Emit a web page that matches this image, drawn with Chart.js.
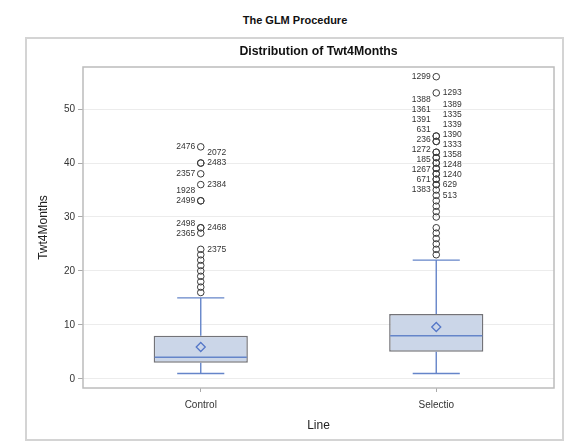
<!DOCTYPE html>
<html>
<head>
<meta charset="utf-8">
<script src="https://cdn.jsdelivr.net/npm/chart.js@4.4.1/dist/chart.umd.min.js"></script>
<style>
  body { margin: 0; width: 566px; height: 444px; background: #fff; overflow: hidden; position: relative; font-family: "Liberation Sans", Arial, sans-serif; }
  #glm { position: absolute; left: 0; top: 14px; width: 590px; text-align: center; font-weight: bold; font-size: 11px; line-height: 13px; color: #111; }
  #frame { position: absolute; left: 25px; top: 37px; width: 539px; height: 404px; border: 2px solid #d4d4d4; box-sizing: border-box; }
  #chart { position: absolute; left: 0; top: 0; }
</style>
</head>
<body>
<div id="glm">The GLM Procedure</div>
<div id="frame"><canvas id="chart" width="535" height="400"></canvas></div>
<script>
// カテゴリと箱ひげの統計量
const categories = ['Control', 'Selectio'];
const q1 = [3, 5];
const median = [4, 8];
const q3 = [8, 12];
const mean = [5.9, 9.6];
const whiskerLow = [1, 1];
const whiskerHigh = [15, 22];
const yTicks = [0, 10, 20, 30, 40, 50];

// 外れ値
const controlOutliers = [16, 17, 18, 19, 20, 21, 22, 23, 24, 27, 28, 28, 33, 33, 36, 38, 40, 40, 43];
const selectioOutliers = [23, 24, 25, 26, 27, 28, 30, 31, 32, 33, 34, 35, 36, 36, 37, 37, 38, 38,
  39, 39, 40, 40, 41, 41, 42, 42, 44, 44, 45, 45, 53, 56];

// 外れ値のID ラベル [id, 値, 側]
const controlLabels = [
  ['2476', 43, 'left'], ['2072', 40, 'right'], ['2483', 40, 'right'], ['2357', 38, 'left'],
  ['2384', 36, 'right'], ['1928', 33, 'left'], ['2499', 33, 'left'], ['2498', 28, 'left'],
  ['2468', 28, 'right'], ['2365', 27, 'left'], ['2375', 24, 'right']
];
const selectioLabels = [
  ['1299', 56, 'left'], ['1293', 53, 'right'], ['1388', 45, 'left'], ['1389', 45, 'right'],
  ['1361', 44, 'left'], ['1335', 44, 'right'], ['1391', 42, 'left'], ['1339', 42, 'right'],
  ['631', 41, 'left'], ['1390', 41, 'right'], ['236', 40, 'left'], ['1333', 40, 'right'],
  ['1272', 39, 'left'], ['1358', 39, 'right'], ['185', 38, 'left'], ['1248', 38, 'right'],
  ['1267', 37, 'left'], ['1240', 37, 'right'], ['671', 36, 'left'], ['629', 36, 'right'],
  ['1383', 35, 'left'], ['513', 34, 'right']
];

const FONT = '"Liberation Sans", Arial, sans-serif';
const BLUE = '#6585c9';

const outlierPoints = [];
controlOutliers.forEach(v => outlierPoints.push({ x: categories[0], y: v }));
selectioOutliers.forEach(v => outlierPoints.push({ x: categories[1], y: v }));

// ひげ・中央値・枠線・タイトルを描くプラグイン
const boxParts = {
  id: 'boxParts',
  afterDatasetsDraw(chart) {
    const ctx = chart.ctx;
    const xs = chart.scales.x, ys = chart.scales.y;
    const bars = chart.getDatasetMeta(0).data;
    ctx.save();
    categories.forEach((c, i) => {
      const x = xs.getPixelForValue(i);
      const half = bars[i].width / 2;
      const cap = half / 2;
      ctx.strokeStyle = BLUE;
      ctx.lineWidth = 1.4;
      ctx.beginPath();
      ctx.moveTo(x, ys.getPixelForValue(q3[i])); ctx.lineTo(x, ys.getPixelForValue(whiskerHigh[i]));
      ctx.moveTo(x, ys.getPixelForValue(q1[i])); ctx.lineTo(x, ys.getPixelForValue(whiskerLow[i]));
      ctx.moveTo(x - cap, ys.getPixelForValue(whiskerHigh[i])); ctx.lineTo(x + cap, ys.getPixelForValue(whiskerHigh[i]));
      ctx.moveTo(x - cap, ys.getPixelForValue(whiskerLow[i])); ctx.lineTo(x + cap, ys.getPixelForValue(whiskerLow[i]));
      ctx.stroke();
      ctx.lineWidth = 1.5;
      ctx.beginPath();
      ctx.moveTo(x - half + 1, ys.getPixelForValue(median[i])); ctx.lineTo(x + half - 1, ys.getPixelForValue(median[i]));
      ctx.stroke();
    });
    // ラベル: 下から順に重ならないよう上へ押し上げる
    ctx.font = '8.5px ' + FONT;
    ctx.fillStyle = '#333';
    ctx.textBaseline = 'middle';
    [controlLabels, selectioLabels].forEach((labels, i) => {
      const x = xs.getPixelForValue(i);
      ['left', 'right'].forEach(side => {
        let prevY = Infinity;
        labels.filter(l => l[2] === side).reverse().forEach(l => {
          const y = Math.min(ys.getPixelForValue(l[1]), prevY - 10);
          prevY = y;
          ctx.textAlign = side === 'left' ? 'right' : 'left';
          ctx.fillText(l[0], side === 'left' ? x - 5.5 : x + 6.5, y);
        });
      });
    });
    const a = chart.chartArea;
    ctx.strokeStyle = '#bcbcbc';
    ctx.lineWidth = 1.5;
    ctx.strokeRect(a.left, a.top, a.right - a.left, a.bottom - a.top);
    // タイトルはプロット領域の中央に
    ctx.font = 'bold 12.3px ' + FONT;
    ctx.fillStyle = '#111';
    ctx.textAlign = 'center';
    ctx.fillText('Distribution of Twt4Months', (a.left + a.right) / 2, 13);
    ctx.restore();
  }
};

new Chart(document.getElementById('chart'), {
  type: 'bar',
  data: {
    labels: categories,
    datasets: [
      {
        data: categories.map((c, i) => [q1[i], q3[i]]),
        backgroundColor: '#cbd6e8',
        borderColor: '#737378',
        borderWidth: 1.5,
        borderSkipped: false,
        barPercentage: 0.4,
        categoryPercentage: 1,
        order: 3
      },
      {
        type: 'line',
        data: categories.map((c, i) => ({ x: c, y: mean[i] })),
        showLine: false,
        pointStyle: 'rectRot',
        pointRadius: 4.5,
        pointBorderWidth: 1.3,
        pointBorderColor: '#5577c8',
        pointBackgroundColor: 'rgba(0,0,0,0)',
        order: 1
      },
      {
        type: 'line',
        data: outlierPoints,
        showLine: false,
        pointStyle: 'circle',
        pointRadius: 3.3,
        pointBorderWidth: 1,
        pointBorderColor: '#3a3a3a',
        pointBackgroundColor: 'rgba(0,0,0,0)',
        order: 1
      }
    ]
  },
  options: {
    responsive: false,
    animation: false,
    layout: { padding: { left: 0, right: 8, top: 28, bottom: 0 } },
    plugins: {
      legend: { display: false },
      tooltip: { enabled: false },
      title: { display: false }
    },
    scales: {
      x: {
        type: 'category',
        offset: true,
        afterFit: s => { s.height = 51; },
        grid: { offset: false, drawOnChartArea: false, tickLength: 4, tickColor: '#aaa' },
        border: { display: false },
        ticks: { color: '#333', padding: 7, font: { family: FONT, size: 10 } },
        title: { display: true, text: 'Line', color: '#222', font: { family: FONT, size: 12 }, padding: { top: 0, bottom: 6 } }
      },
      y: {
        min: -1.7,
        max: 57.8,
        afterFit: s => { s.width = 56; },
        afterBuildTicks: s => { s.ticks = yTicks.map(v => ({ value: v })); },
        grid: { color: '#ececec', lineWidth: 1, tickLength: 5, tickColor: '#aaa' },
        border: { display: false },
        ticks: { color: '#333', padding: 3, font: { family: FONT, size: 10 } },
        title: { display: true, text: 'Twt4Months', color: '#222', font: { family: FONT, size: 12 }, padding: { top: 9, bottom: 0 } }
      }
    }
  },
  plugins: [boxParts]
});
</script>
</body>
</html>
